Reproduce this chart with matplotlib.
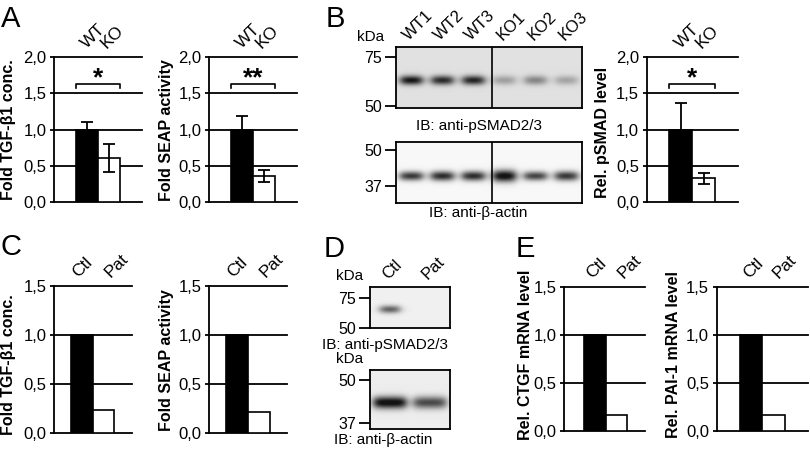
import numpy as np
import matplotlib
matplotlib.use('Agg')
from matplotlib import pyplot as plt

plt.rcParams['font.family'] = ['Liberation Sans', 'DejaVu Sans']

# dados
ko_groups = ['WT', 'KO']
pat_groups = ['Ctl', 'Pat']

a_tgf_vals = [1.0, 0.61]
a_tgf_err = [0.11, 0.19]
a_seap_vals = [1.0, 0.36]
a_seap_err = [0.19, 0.08]
b_psmad_vals = [1.0, 0.33]
b_psmad_err = [0.36, 0.08]

c_tgf_vals = [1.0, 0.23]
c_seap_vals = [1.0, 0.21]
e_ctgf_vals = [1.0, 0.17]
e_pai1_vals = [1.0, 0.17]

ticks_2 = [0.0, 0.5, 1.0, 1.5, 2.0]
labels_2 = ['0,0', '0,5', '1,0', '1,5', '2,0']
ticks_15 = [0.0, 0.5, 1.0, 1.5]
labels_15 = ['0,0', '0,5', '1,0', '1,5']

# intensidade relativa das bandas nos blots
b_lanes = ['WT1', 'WT2', 'WT3', 'KO1', 'KO2', 'KO3']
b_psmad_bands = [0.95, 0.85, 0.88, 0.30, 0.42, 0.28]
b_actin_bands = [0.80, 0.85, 0.85, 1.00, 0.75, 0.80]
d_lanes = ['Ctl', 'Pat']
d_psmad_bands = [0.60, 0.0]
d_actin_bands = [1.00, 0.70]

W, H = 810, 455
fig = plt.figure(figsize=(W / 100, H / 100), dpi=100)


def rect(x0, y0, x1, y1):
    return [x0 / W, 1 - y1 / H, (x1 - x0) / W, (y1 - y0) / H]


def ftext(x, y, s, **kw):
    fig.text(x / W, 1 - y / H, s, **kw)


def bar_panel(box, vals, errs, ticks, tlabels, groups, xlim, label_dx):
    ax = fig.add_axes(rect(*box))
    x = np.arange(len(vals))
    ax.bar(x, vals, width=1.0, color=['black', 'white'], edgecolor='black',
           linewidth=1.2, zorder=3)
    if errs is not None:
        ax.errorbar(x, vals, yerr=errs, fmt='none', ecolor='black', elinewidth=1.3,
                    capsize=4, capthick=1.3, zorder=4)
    for t in ticks:
        ax.axhline(t, color='black', linewidth=1.3, zorder=2, clip_on=False)
    ax.set_xlim(*xlim)
    ax.set_ylim(ticks[0], ticks[-1])
    for s in ['top', 'right', 'bottom']:
        ax.spines[s].set_visible(False)
    ax.spines['left'].set_linewidth(1.3)
    ax.spines['left'].set_zorder(5)
    ax.set_yticks(ticks)
    ax.set_yticklabels(tlabels)
    ax.tick_params(axis='y', direction='out', length=3, width=1.3, pad=2.5, labelsize=12)
    ax.xaxis.tick_top()
    ax.set_xticks(x + np.array(label_dx))
    ax.set_xticklabels(groups, rotation=45, ha='left', rotation_mode='anchor', fontsize=12.5)
    ax.tick_params(axis='x', length=0, pad=4)
    ax.patch.set_alpha(0)
    return ax


def sig(ax, y, txt):
    ax.plot([-0.5, -0.5, 1.5, 1.5], [y - 0.06, y, y, y - 0.06], color='black',
            linewidth=1.2, clip_on=False, zorder=5)
    ax.text(0.5, y - 0.02, txt, ha='center', va='baseline', fontsize=19, fontweight='bold')


def blot(box, strengths, band_y, halfw, sig_y, bg, lanes, marks, mark_labels,
         divider=False, show_lanes=True):
    x0, y0, x1, y1 = box
    w = int(round(x1 - x0))
    h = int(round(y1 - y0))
    ax = fig.add_axes(rect(*box))
    yy, xx = np.mgrid[0:h, 0:w] + 0.5
    n = len(strengths)
    lw = w / n
    dark = np.zeros((h, w))
    for i, s in enumerate(strengths):
        cx = (i + 0.5) * lw
        sy = sig_y[i] if np.ndim(sig_y) else sig_y
        px_ = 1 / (1 + np.exp((np.abs(xx - cx) - halfw) / 2.5))
        py_ = np.exp(-0.5 * ((yy - band_y) / sy) ** 2)
        dark += s * px_ * py_
    img = bg * (1 - np.clip(dark, 0, 0.92))
    ax.imshow(img, cmap='gray', vmin=0, vmax=1, extent=(0, w, h, 0), aspect='auto',
              interpolation='bicubic')
    ax.set_xlim(0, w)
    ax.set_ylim(h, 0)
    for s in ax.spines.values():
        s.set_linewidth(1.3)
    ax.set_yticks(marks)
    ax.set_yticklabels(mark_labels)
    ax.tick_params(axis='y', direction='out', length=8, width=1.3, pad=2, labelsize=11.5)
    ax.xaxis.tick_top()
    if show_lanes:
        ax.set_xticks((np.arange(n) + 0.5) * lw)
        ax.set_xticklabels(lanes, rotation=45, ha='left', rotation_mode='anchor', fontsize=12)
    else:
        ax.set_xticks([])
    ax.tick_params(axis='x', length=0, pad=3)
    if divider:
        ax.axvline(w / 2 + 3, color='black', linewidth=1.2)
    return ax


# painel A
ax = bar_panel((54, 57, 141.7, 202.3), a_tgf_vals, a_tgf_err, ticks_2, labels_2,
               ko_groups, (-1.5, 2.5), [0.1, 0.0])
sig(ax, 1.63, '*')
ax = bar_panel((209, 57, 297, 202.3), a_seap_vals, a_seap_err, ticks_2, labels_2,
               ko_groups, (-1.5, 2.5), [0.1, 0.0])
sig(ax, 1.63, '**')

# painel B
blot((396, 47.3, 582, 107.7), b_psmad_bands, 32.7, 10.5, 3.2, 0.88, b_lanes,
     [9.4, 58.7], ['75', '50'], divider=True)
blot((396, 141.7, 582, 203.3), b_actin_bands, 35, 11, [3.2, 3.4, 3.4, 4.2, 3.2, 3.4],
     0.97, b_lanes, [8.3, 45], ['50', '37'], divider=True, show_lanes=False)
ax = bar_panel((646.7, 57, 737.7, 202.3), b_psmad_vals, b_psmad_err, ticks_2, labels_2,
               ko_groups, (-1.5, 2.5), [0.1, 0.0])
sig(ax, 1.63, '*')

# painel C
bar_panel((54, 286, 131.7, 433), c_tgf_vals, None, ticks_15, labels_15,
          pat_groups, (-1.3, 2.3), [-0.1, 0.4])
bar_panel((209, 286, 287, 433), c_seap_vals, None, ticks_15, labels_15,
          pat_groups, (-1.3, 2.3), [-0.1, 0.4])

# painel D
blot((370, 286.7, 450, 328.3), d_psmad_bands, 23.3, 9.5, 2.8, 0.94, d_lanes,
     [11.6, 41.6], ['75', '50'])
blot((370, 370, 450, 429), d_actin_bands, 33, 16, 4.2, 0.93, d_lanes,
     [10, 53], ['50', '37'], show_lanes=False)

# painel E
bar_panel((564, 287, 645, 431), e_ctgf_vals, None, ticks_15, labels_15,
          pat_groups, (-1.4, 2.3), [0.0, 0.4])
bar_panel((716.7, 287, 808, 431), e_pai1_vals, None, ticks_15, labels_15,
          pat_groups, (-1.5, 2.5), [0.0, 0.3])

# textos
ylab = dict(rotation=90, ha='center', va='center', fontsize=11.5, fontweight='bold')
ftext(9, 130, 'Fold TGF-β1 conc.', **ylab)
ftext(166, 130, 'Fold SEAP activity', **ylab)
ftext(603, 132, 'Rel. pSMAD level', **ylab)
ftext(9, 365, 'Fold TGF-β1 conc.', **ylab)
ftext(166, 360, 'Fold SEAP activity', **ylab)
ftext(526, 355, 'Rel. CTGF mRNA level', **ylab)
ftext(674, 355, 'Rel. PAI-1 mRNA level', **ylab)

ftext(479, 126, 'IB: anti-pSMAD2/3', ha='center', va='center', fontsize=11)
ftext(478, 213, 'IB: anti-β-actin', ha='center', va='center', fontsize=11)
ftext(385, 345, 'IB: anti-pSMAD2/3', ha='center', va='center', fontsize=11)
ftext(383, 440, 'IB: anti-β-actin', ha='center', va='center', fontsize=11)
ftext(371, 37, 'kDa', ha='center', va='center', fontsize=11)
ftext(350, 276, 'kDa', ha='center', va='center', fontsize=11)
ftext(350, 359, 'kDa', ha='center', va='center', fontsize=11)

letters = dict(fontsize=21, va='baseline', ha='left')
ftext(1, 27, 'A', **letters)
ftext(326, 27, 'B', **letters)
ftext(1, 255, 'C', **letters)
ftext(324, 257, 'D', **letters)
ftext(516, 257, 'E', **letters)

fig.savefig('out.png', dpi=100)
